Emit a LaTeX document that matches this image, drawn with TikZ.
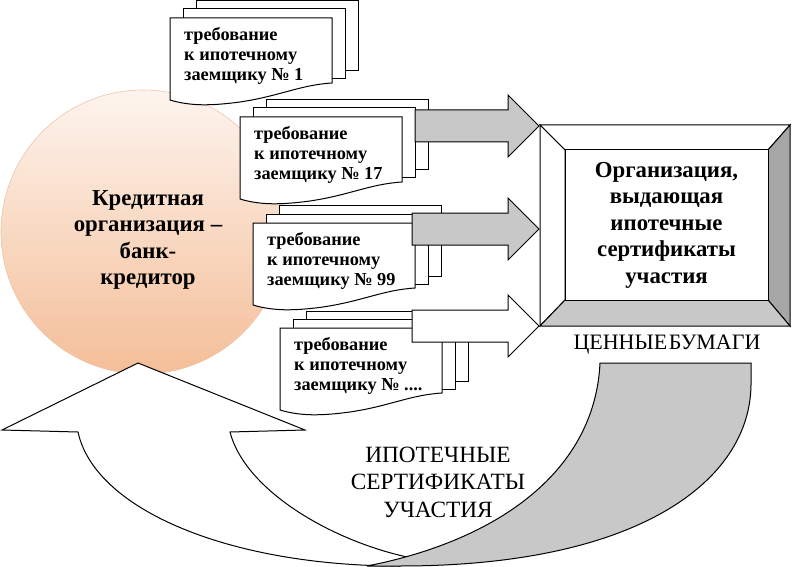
\documentclass[tikz,border=0pt]{standalone}
\usepackage{fontspec}
\setmainfont{Liberation Serif}
\usetikzlibrary{shapes, arrows, positioning}
\definecolor{persik}{RGB}{244,190,152}
\definecolor{persiksvet}{RGB}{253,244,238}
\definecolor{kontur}{RGB}{238,196,168}
\definecolor{seryj}{RGB}{200,200,200}
\definecolor{temnoseryj}{RGB}{166,166,166}
\tikzstyle{list} = [draw=black, fill=white, line width=1pt]
\tikzstyle{tekstlista} = [inner sep=0pt, align=left, font=\bfseries\fontsize{18.3}{20}\selectfont]
\tikzstyle{zagolovok} = [inner sep=0pt, align=center, font=\bfseries\fontsize{22.8}{26.5}\selectfont]
\tikzstyle{podpis} = [inner sep=0pt, align=center, font=\fontsize{23.3}{27.5}\selectfont]
\tikzstyle{strelka} = [draw=black, line width=1pt, line join=miter]
% pachka iz trekh listov: imya, x, y, nomer
\newcommand{\trebovanie}[4]{%
	\begin{scope}[shift={(#2,#3)}]
		\draw[list] (26,-17) rectangle (188,53);
		\draw[list] (13,-9) rectangle (175,61);
		\draw[list] (0,0) -- (162,0) -- (162,65) .. controls (130,67) and (110,78) .. (70,84) .. controls (40,88) and (20,88) .. (0,82) -- cycle;
		\node[tekstlista, anchor=north west] (#1) at (14,9) {требование\\к ипотечному\\заемщику №~#4};
	\end{scope}}
% blochnaya strelka: x nachala, y osi, zalivka
\newcommand{\blokstrelka}[3]{%
	\draw[strelka, fill=#3] (#1,#2-16) -- (508,#2-16) -- (508,#2-31) -- (539,#2) -- (508,#2+31) -- (508,#2+16) -- (#1,#2+16) -- cycle;}
\begin{document}
\begin{tikzpicture}[x=1pt, y=-1pt]
	\useasboundingbox (0,0) rectangle (793,567);
	% bank
	\shade[top color=persiksvet, bottom color=persik, draw=kontur, line width=0.6pt] (143,232) circle (142);
	\node[zagolovok] (bank) at (148,240) {Кредитная\\организация –\\банк-\\кредитор};
	% trebovaniya
	\trebovanie{treb1}{170}{18}{1}
	\trebovanie{treb17}{240}{117}{17}
	\trebovanie{treb99}{253}{223}{99}
	\trebovanie{trebN}{280}{328}{....}
	% strelki
	\blokstrelka{415}{126}{seryj}
	\blokstrelka{412}{229}{seryj}
	\blokstrelka{412}{326}{white}
	% ramka
	\draw[strelka, fill=white] (540,125) -- (790,125) -- (768,150) -- (565,150) -- cycle;
	\draw[strelka, fill=white] (540,125) -- (565,150) -- (565,300) -- (540,326) -- cycle;
	\draw[strelka, fill=temnoseryj] (790,125) -- (790,326) -- (768,300) -- (768,150) -- cycle;
	\draw[strelka, fill=seryj] (540,326) -- (790,326) -- (768,300) -- (565,300) -- cycle;
	\node[zagolovok, draw, line width=1pt, fill=white, minimum width=203pt, minimum height=150pt] (emitent) at (666.5,225) {Организация,\\выдающая\\ипотечные\\сертификаты\\участия};
	\node[podpis, font=\fontsize{22}{27}\selectfont] (bumagi) at (667,345) {ЦЕННЫЕ\hspace{0.08em}БУМАГИ};
	% obratnaya strelka
	\draw[strelka, fill=white] (2,430) -- (138,363) -- (305,430) -- (230,432) .. controls (245,490) and (330,540) .. (407,557) -- (400,566) .. controls (230,566) and (95,510) .. (78,432) -- cycle;
	\draw[strelka, fill=seryj] (600,363) -- (751,363) -- (751,385) .. controls (750,480) and (640,566) .. (400,566) -- (367,566) .. controls (500,540) and (595,470) .. (600,363) -- cycle;
	\node[podpis] (sertifikaty) at (438,482) {ИПОТЕЧНЫЕ\\СЕРТИФИКАТЫ\\УЧАСТИЯ};
\end{tikzpicture}
\end{document}
